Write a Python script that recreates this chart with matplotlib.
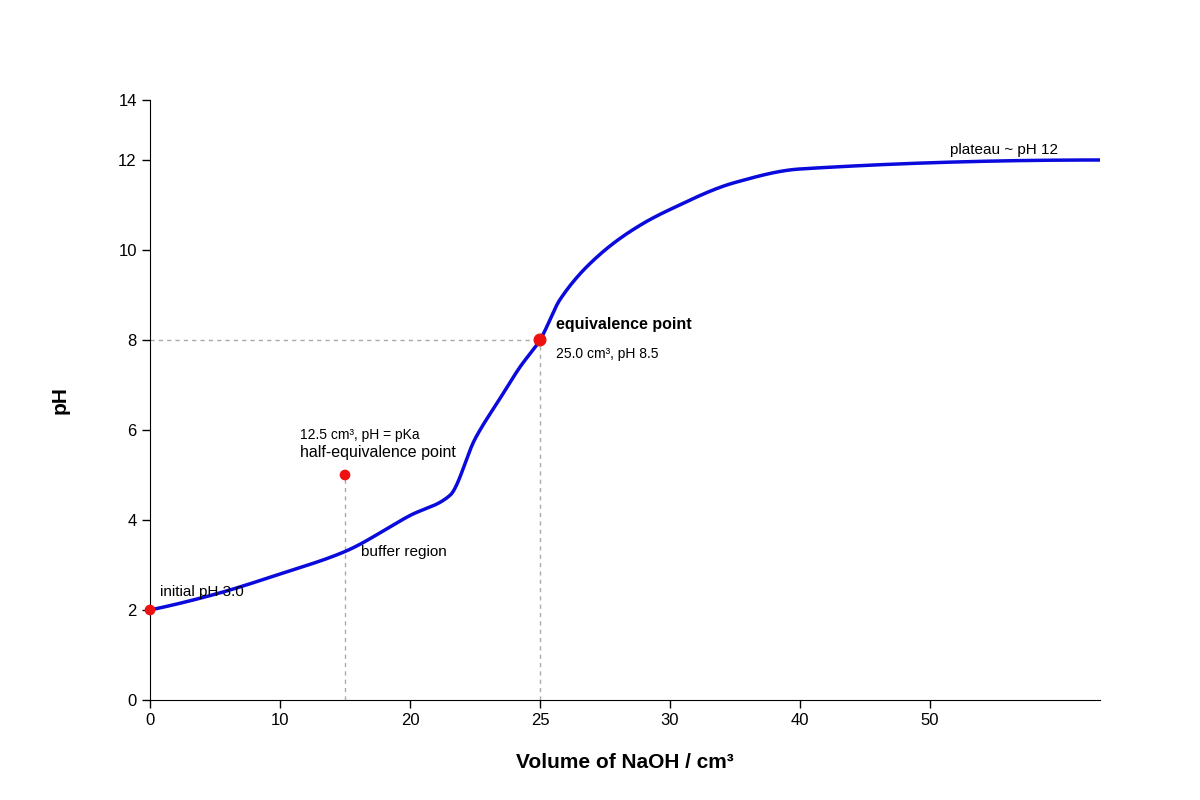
import numpy as np
import matplotlib
matplotlib.use("Agg")
import matplotlib.pyplot as plt

plt.rcParams['font.family'] = ['Liberation Sans', 'DejaVu Sans']

# data
vol = [0, 5, 10, 15, 20, 21.54, 22.5, 23.46, 24.23, 25, 25.77, 27.3, 28.85, 30, 35, 40, 60]
ph = [2.0, 2.35, 2.8, 3.3, 4.1, 4.55, 5.8, 6.7, 7.4, 8.0, 8.9, 9.9, 10.55, 10.9, 11.5, 11.8, 12.0]
x_ticks = [0, 10, 20, 25, 30, 40, 50]
y_ticks = [0, 2, 4, 6, 8, 10, 12, 14]
key_vol = [0, 15, 25]
key_ph = [2.0, 5.0, 8.0]

# piecewise axis scales
x_pos_pts = [0, 10, 20, 25, 30, 40, 50, 60]
x_pos_val = [0, 1, 2, 3, 4, 5, 6, 7.3077]
y_pos_pts = [0, 12, 14]
y_pos_val = [0, 12, 13.333]
fx = lambda v: np.interp(v, x_pos_pts, x_pos_val)
fy = lambda v: np.interp(v, y_pos_pts, y_pos_val)

fig = plt.figure(figsize=(12, 8), dpi=100)
ax = fig.add_axes([0.125, 0.125, 0.7917, 0.75])

# smooth curve in position space
px = fx(np.array(vol)); py = fy(np.array(ph))
t = np.linspace(px[0], px[-1], 800)
try:
    from scipy.interpolate import PchipInterpolator
    ty = PchipInterpolator(px, py)(t)
except Exception:
    ty = np.interp(t, px, py)
ax.plot(t, ty, color='#0a0adc', lw=2.5, zorder=3)

# guide lines
ax.plot([0, fx(25)], [fy(8), fy(8)], ls=(0, (3, 3)), color='#aaaaaa', lw=1)
ax.plot([fx(25), fx(25)], [0, fy(8)], ls=(0, (3, 3)), color='#aaaaaa', lw=1)
ax.plot([fx(15), fx(15)], [0, fy(5)], ls=(0, (3, 3)), color='#aaaaaa', lw=1)

ax.scatter(fx(np.array(key_vol)), fy(np.array(key_ph)), s=[45, 45, 70],
           color='#ee1111', zorder=4, clip_on=False)

ax.text(fx(0) + 0.08, fy(2.3), 'initial pH 3.0', fontsize=11)
ax.text(fx(15) + 0.12, fy(3.2), 'buffer region', fontsize=11)
ax.text(fx(15) - 0.35, fy(5.4), 'half-equivalence point', fontsize=11.5)
ax.text(fx(15) - 0.35, fy(5.8), '12.5 cm³, pH = pKa', fontsize=10)
ax.text(fx(25) + 0.12, fy(8.25), 'equivalence point', fontsize=11.5, fontweight='bold')
ax.text(fx(25) + 0.12, fy(7.6), '25.0 cm³, pH 8.5', fontsize=10)
ax.text(fx(50) + 0.15, fy(12.2), 'plateau ~ pH 12', fontsize=11)

ax.set_xlim(0, 7.3077)
ax.set_ylim(0, 13.333)
ax.set_xticks(fx(np.array(x_ticks)))
ax.set_xticklabels([str(v) for v in x_ticks], fontsize=12)
ax.set_yticks(fy(np.array(y_ticks)))
ax.set_yticklabels([str(v) for v in y_ticks], fontsize=12)
ax.tick_params(length=6, width=1)
for s in ['top', 'right']:
    ax.spines[s].set_visible(False)
ax.set_xlabel('Volume of NaOH / cm³', fontsize=15, fontweight='bold', labelpad=18)
ax.set_ylabel('pH', fontsize=15, fontweight='bold', labelpad=35)

fig.savefig('out.png', dpi=100)
